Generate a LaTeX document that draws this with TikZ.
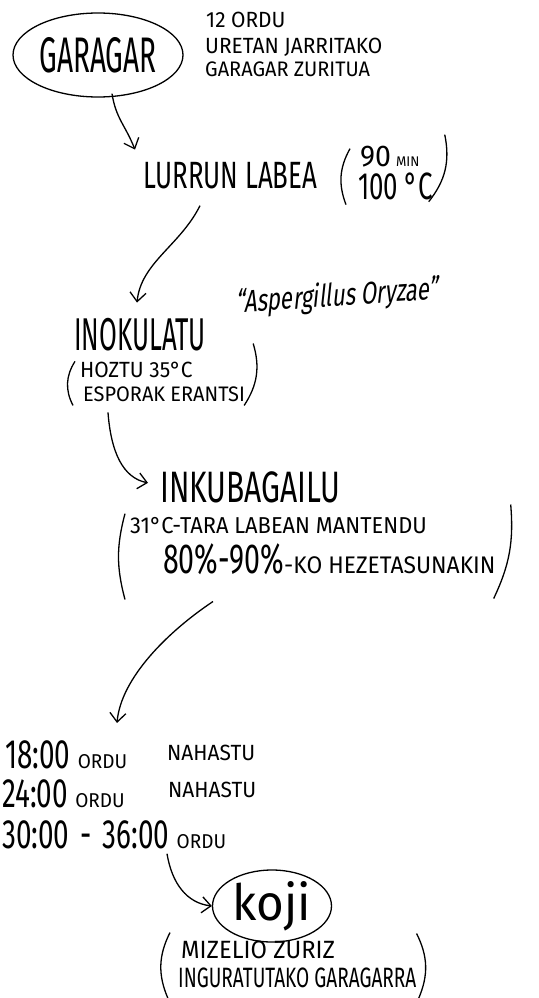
\documentclass[tikz,border=0pt]{standalone}
\usepackage{fontspec}
\newfontfamily\hand[FakeStretch=0.68]{Fira Sans}
\newfontfamily\handn[FakeStretch=0.56]{Fira Sans}
\newfontfamily\handw[FakeStretch=0.95]{Fira Sans}
\newfontfamily\handsl[FakeStretch=0.72,FakeSlant=0.18]{Fira Sans}
\newcommand\hsz[1]{\fontsize{#1}{#1}\selectfont}
\usetikzlibrary{shapes,arrows.meta,positioning,calc}

\begin{document}
\begin{tikzpicture}[x=1pt, y=-1pt,
    txt/.style={font=\hand, inner sep=0pt, anchor=base west},
    note/.style={txt, font=\handw},
    bubble/.style={draw, ellipse, line width=1.3pt, inner sep=0pt},
    arr/.style={-{Straight Barb[length=9pt,width=16pt]}, line width=1.3pt},
    paren/.style={line width=1.3pt},
]
\useasboundingbox (0,0) rectangle (538,998);

\node[bubble, font=\handn, minimum width=170pt, minimum height=84pt] (garagar) at (98,55) {\hsz{50}GARAGAR};
\node[note] (ordu12) at (206,28) {\hsz{22}12 ORDU};
\node[note] (uretan) at (205,54) {\hsz{22}URETAN JARRITAKO};
\node[note] (zuritua) at (205,77) {\hsz{21}GARAGAR ZURITUA};

\node[txt] (lurrun) at (143,188) {\hsz{38}LURRUN LABEA};
\node[txt] (min90) at (360,166) {\handw\hsz{30}90\,{\hsz{14}MIN}};
\node[txt] (c100) at (358,199) {\hsz{38}100\,°C};
\draw[paren] ($(c100.south west)+(-8,-51)$) to[bend right=25] ($(c100.south west)+(-12,5)$);
\draw[paren] ($(c100.south east)+(12,-65)$) to[bend left=25] ($(c100.south east)+(-4,2)$);

\node[txt, font=\handn] (inokulatu) at (74,350) {\hsz{46}INOKULATU};
\node[txt, font=\handsl, rotate=4] (aspergillus) at (236,313) {\hsz{31}“Aspergillus Oryzae”};
\node[note] (hoztu) at (80,377) {\hsz{22}HOZTU 35°C};
\node[note] (esporak) at (83,401) {\hsz{21}ESPORAK ERANTSI};
\draw[paren] ($(hoztu.north west)+(-5,0)$) to[bend right=30] ($(esporak.south west)+(-10,4)$);
\draw[paren] ($(esporak.south east)+(8,-58)$) to[bend left=25] ($(esporak.south east)+(-1,4)$);

\node[txt] (inkubagailu) at (160,502) {\hsz{44}INKUBAGAILU};
\node[note] (tara) at (130,533) {\hsz{23}31°C-TARA LABEAN MANTENDU};
\node[txt] (hezetasun) at (163,573) {\hsz{42}80\%-90\%{\handw\hsz{24}-KO HEZETASUNAKIN}};
\draw[paren] ($(tara.north west)+(-5,-3)$) to[bend right=15] ($(hezetasun.south west)+(-38,25)$);
\draw[paren] ($(hezetasun.south east)+(15,-70)$) to[bend left=15] ($(hezetasun.south east)+(-2,24)$);

\node[txt] (t18) at (5,768) {\hsz{41}18:00\ {\handw\hsz{20}ORDU}};
\node[note] (mix18) at (167,760) {\hsz{22}NAHASTU};
\node[txt] (t24) at (2,807) {\hsz{41}24:00\ {\handw\hsz{20}ORDU}};
\node[note] (mix24) at (168,797) {\hsz{22}NAHASTU};
\node[txt] (t36) at (2,848) {\hsz{41}30:00\hspace{11pt}-\hspace{11pt}36:00\ {\handw\hsz{20}ORDU}};

\node[bubble, font=\handw, minimum width=119pt, minimum height=72pt] (koji) at (272,906) {\hsz{50}koji};
\node[note] (mizelio) at (181,958) {\hsz{25}MIZELIO ZURIZ};
\node[txt] (ingurat) at (178,987) {\hsz{28}INGURATUTAKO GARAGARRA};
\draw[paren] ($(ingurat.south west)+(-8,-55)$) to[bend right=25] ($(ingurat.south west)+(-10,11)$);
\draw[paren] ($(ingurat.south east)+(0,-54)$) to[bend left=25] ($(ingurat.south east)+(2,11)$);

\draw[arr] ($(garagar.south)+(14,-4)$) .. controls +(4,25) and +(-10,-25) .. ($(lurrun.north west)+(-8,-12)$);
\draw[arr] ($(lurrun.south west)+(57,17)$) .. controls +(-20,40) and +(4,-40) .. ($(inokulatu.north west)+(63,-15)$);
\draw[arr] ($(esporak.south west)+(25,11)$) .. controls +(3,40) and +(-25,-5) .. ($(inkubagailu.west)+(-12,-4)$);
\draw[arr] ($(hezetasun.south west)+(50,27)$) .. controls +(-45,30) and +(4,-45) .. ($(t18.north west)+(112,-17)$);
\draw[arr] ($(t36.south west)+(165,5)$) .. controls +(5,30) and +(-25,-3) .. (koji.west);
\end{tikzpicture}
\end{document}
